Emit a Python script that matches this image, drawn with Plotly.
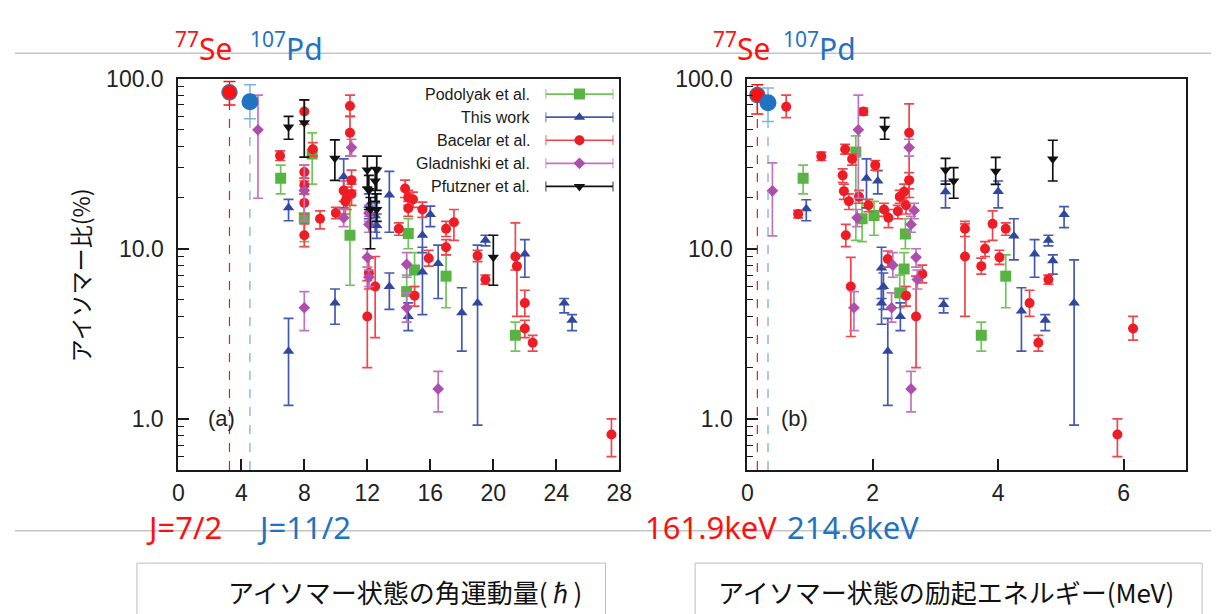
import numpy as np
import plotly.graph_objects as go

W, H = 1224, 614

# ---------------- isomeric ratio (%) versus spin J (hbar) ----------------
POD_J = [6.5, 8.0, 8.5, 10.9, 14.6, 15.0, 14.5, 17.0, 21.4]
POD_J_R = [26, 15.2, 36, 12, 12.3, 7.5, 5.6, 6.9, 3.1]
POD_J_HI = [31, 26, 48, 20, 15, 9.5, 7.0, 9.2, 3.7]
POD_J_LO = [21, 11, 24, 6.1, 10, 6.0, 4.5, 4.5, 2.5]

TW_J = [7.0, 7.0, 9.95, 10.5, 12.1, 12.5, 12.6, 13.4, 13.4, 14.6, 15.5, 15.5,
        16.0, 16.5, 18.0, 19.0, 19.5, 22.0, 24.5, 25.0]
TW_J_R = [17.4, 2.5, 4.8, 26.5, 18, 15.6, 13.7, 20.7, 6.0, 4.0, 12, 7.3,
          15.9, 8.2, 4.2, 4.8, 11.2, 9.3, 4.8, 3.8]
TW_J_HI = [19.5, 3.9, 5.8, 33.7, 21, 18.6, 16, 28.5, 7.2, 4.8, 17.4, 10.2,
           17.8, 10.5, 5.9, 10.5, 12, 11.3, 5.1, 4.1]
TW_J_LO = [14.6, 1.2, 3.6, 17.4, 15, 12.5, 11.5, 12.5, 4.4, 3.3, 9.5, 4.1,
           13.5, 5.1, 2.5, 0.92, 10.4, 6.8, 4.2, 3.3]

BAC_J = [6.46, 8.0, 8.54, 8.0, 8.0, 8.0, 8.0, 9.0, 10.0, 10.9, 10.9, 10.5, 10.7,
         11.0, 10.6, 11.0, 12.1, 12.5, 12.0, 14.0, 14.4, 14.9, 14.6, 15.5, 15.9,
         15.0, 17.0, 17.5, 17.0, 19.0, 19.5, 21.4, 21.5, 22.0, 22.0, 22.5, 27.5, 14.6]
BAC_J_R = [35.2, 64, 38.4, 28.2, 23.7, 18.6, 12, 15, 16.2, 69, 48, 22, 20,
           25.3, 19, 21, 7.2, 6.0, 4.0, 13.1, 22.6, 19.5, 17.3, 17, 8.8,
           5.3, 13.1, 14.3, 10.2, 9.1, 6.6, 9.0, 7.9, 4.8, 3.4, 2.8, 0.81, 20]
BAC_J_HI = [37.6, 75, 42, 31, 26, 21, 14, 16.7, 17.5, 80, 60, 25, 23,
            29, 21, 24, 8.8, 9.0, 6.5, 14.2, 25.3, 21.5, 19, 18.8, 9.8,
            6.0, 14.5, 17, 11.3, 9.8, 7.0, 14.2, 9.0, 5.7, 3.8, 3.1, 1.0, 22]
BAC_J_LO = [33, 54, 35, 25, 21, 16, 10.3, 13.1, 15, 60, 35, 19, 17,
            22, 16, 18, 5.8, 3.0, 2.0, 12, 20, 17.5, 15.5, 15.3, 7.9,
            4.6, 11.8, 11.2, 9.2, 8.4, 6.2, 7.5, 4.0, 4.0, 3.0, 2.5, 0.6, 18]

GLA_J = [5.06, 8.0, 8.0, 11.0, 10.5, 12.1, 12.1, 12.0, 12.1, 14.5, 14.5, 16.5]
GLA_J_R = [50, 22, 4.5, 39.3, 15.2, 16.2, 13.9, 8.9, 6.8, 8.1, 4.5, 1.5]
GLA_J_HI = [80, 31, 5.6, 44, 17, 18, 15.5, 10, 7.5, 9.5, 5.5, 1.9]
GLA_J_LO = [19.8, 14.6, 3.3, 35, 13.5, 14.5, 12.5, 7.8, 6.0, 6.8, 3.7, 1.1]

PFU_J = [7.0, 8.0, 9.94, 12.0, 12.6, 12.1, 12.5, 12.2, 12.6, 20.0]
PFU_J_R = [52, 55, 34, 29, 29, 22, 25, 17, 17, 8.9]
PFU_J_HI = [60, 75, 43.6, 35, 35, 27, 30, 20, 21, 12]
PFU_J_LO = [44, 34.5, 25.2, 23, 22, 17, 19, 10, 14.5, 6.1]

# ---------------- isomeric ratio (%) versus excitation energy (MeV) ----------------
POD_E = [0.89, 1.73, 1.83, 2.02, 2.52, 2.5, 2.43, 3.73, 4.12]
POD_E_R = [26, 37, 15, 15.7, 12.2, 7.6, 5.5, 3.1, 6.9]
POD_E_HI = [31, 46, 19.5, 19, 15, 9.5, 7.0, 3.7, 9.2]
POD_E_LO = [21, 11.2, 11, 12, 10, 6.0, 4.5, 2.5, 4.5]

TW_E = [0.94, 1.9, 2.08, 4.0, 5.05, 4.25, 4.8, 4.58, 4.87, 4.37, 4.75, 5.21,
        3.13, 3.16, 2.14, 2.14, 2.44, 2.24, 2.17]
TW_E_R = [17.2, 26, 25, 21.7, 15.9, 11.9, 11.2, 9.3, 8.5, 4.3, 3.8, 4.8,
          4.7, 21.6, 7.7, 4.8, 4.0, 2.5, 6.0]
TW_E_HI = [19.4, 33.7, 28.8, 25, 17.7, 15, 12, 11.3, 9.2, 5.9, 4.1, 8.6,
           5.1, 25, 10.2, 5.8, 4.8, 3.9, 7.2]
TW_E_LO = [14.6, 17.4, 21, 17.4, 13.3, 8.6, 10.4, 6.8, 7.1, 2.5, 3.3, 0.92,
           4.2, 17.4, 5.1, 3.6, 3.3, 1.2, 4.4]

BAC_E = [0.62, 1.85, 1.18, 0.81, 1.56, 1.67, 2.04, 1.52, 1.54, 1.62, 1.78, 1.93,
         2.18, 2.25, 2.58, 2.58, 2.43, 2.5, 2.53, 2.4, 1.57, 1.65, 2.24, 2.53,
         2.69, 2.79, 3.47, 3.47, 3.79, 3.73, 3.91, 4.02, 4.12, 4.5, 4.64, 4.8,
         6.15, 5.9]
BAC_E_R = [68.3, 64, 35, 16, 38.4, 33.7, 31, 27, 21.8, 19, 20.2, 18,
           17, 15.2, 48, 25.3, 20.2, 21.6, 18, 16.6, 12, 6.0, 8.7, 5.3,
           4.0, 7.1, 13.1, 9.0, 10, 7.9, 14, 8.9, 13.1, 4.8, 2.8, 6.6,
           3.4, 0.81]
BAC_E_HI = [80, 67, 37, 16.8, 41, 36, 33, 29.5, 24, 21, 22, 19.5,
            18.5, 17, 71, 28, 22, 24, 20, 18, 13.9, 8.9, 9.7, 6.0,
            6.9, 8.0, 14.5, 14, 11, 8.8, 16.7, 9.8, 14.2, 5.7, 3.1, 7.0,
            4.0, 1.0]
BAC_E_LO = [59, 61, 33, 15.2, 36, 31, 29, 24.5, 19.5, 17, 18.5, 16.5,
            15.5, 13.3, 20, 22.5, 18.5, 19, 16, 15, 10.3, 3.05, 7.8, 4.6,
            2.0, 6.3, 11.8, 4.0, 9.0, 7.1, 11.2, 8.1, 12, 4.0, 2.5, 6.2,
            2.9, 0.6]

GLA_E = [1.77, 0.4, 1.7, 2.58, 1.75, 2.66, 2.61, 2.69, 2.71, 2.32, 2.3, 2.61]
GLA_E_R = [50, 21.9, 4.5, 39.3, 15.2, 16.8, 13.9, 8.9, 6.6, 8.0, 4.5, 1.5]
GLA_E_HI = [80, 32, 5.6, 44, 17, 18.5, 15.5, 10, 7.5, 9.5, 5.5, 1.9]
GLA_E_LO = [19.8, 11.9, 3.3, 35, 13.5, 15, 12.5, 7.8, 5.8, 6.8, 3.7, 1.1]

PFU_E = [2.19, 3.16, 3.29, 3.96, 4.87]
PFU_E_R = [51, 29, 25, 28.5, 33.7]
PFU_E_HI = [59, 34, 30, 34.4, 43.4]
PFU_E_LO = [44, 24, 19.8, 23.9, 25]

# highlighted isomers: 77Se (J=7/2, 161.9 keV) and 107Pd (J=11/2, 214.6 keV)
HL_J = [3.25, 4.55]
HL_E = [0.16, 0.33]
HL_R_J = [83, 73]
HL_HI_J = [96, 92]
HL_LO_J = [70, 58]
HL_R_E = [80, 72]
HL_HI_E = [92, 88]
HL_LO_E = [62, 56]

LEGEND_NAMES = ["Podolyak et al.", "This work", "Bacelar et al.",
                "Gladnishki et al.", "Pfutzner et al."]

J_TICKS = [0, 4, 8, 12, 16, 20, 24, 28]
E_TICKS = [0, 2, 4, 6]
R_TICKS = [1, 10, 100]
R_TICK_TEXT = ["1.0", "10.0", "100.0"]

# series styling: (marker colour, error bar colour, symbol, marker size)
STYLE = [
    ("#57b443", "#72c35a", "square", 11),
    ("#2f47a0", "#4459b3", "triangle-up", 10),
    ("#ee1c24", "#f2444b", "circle", 10),
    ("#ad4ead", "#c272c2", "diamond", 9),
    ("#111111", "#111111", "triangle-down", 10),
]

RED = "#ff1010"
BLUE = "#1f73c0"


def px(x):
    return x / W


def py(y):
    return 1 - y / H


fig = go.Figure()


def add_series(x, r, hi, lo, style, xa, ya, name):
    mcol, bcol, sym, size = style
    fig.add_trace(go.Scatter(
        x=x, y=r, mode="markers", name=name, showlegend=False,
        xaxis=xa, yaxis=ya,
        marker=dict(symbol=sym, size=size, color=mcol, line=dict(width=0)),
        error_y=dict(type="data", symmetric=False,
                     array=[h - v for h, v in zip(hi, r)],
                     arrayminus=[v - l for v, l in zip(r, lo)],
                     color=bcol, thickness=1.7, width=5),
    ))


left_sets = [
    (POD_J, POD_J_R, POD_J_HI, POD_J_LO),
    (TW_J, TW_J_R, TW_J_HI, TW_J_LO),
    (BAC_J, BAC_J_R, BAC_J_HI, BAC_J_LO),
    (GLA_J, GLA_J_R, GLA_J_HI, GLA_J_LO),
    (PFU_J, PFU_J_R, PFU_J_HI, PFU_J_LO),
]
right_sets = [
    (POD_E, POD_E_R, POD_E_HI, POD_E_LO),
    (TW_E, TW_E_R, TW_E_HI, TW_E_LO),
    (BAC_E, BAC_E_R, BAC_E_HI, BAC_E_LO),
    (GLA_E, GLA_E_R, GLA_E_HI, GLA_E_LO),
    (PFU_E, PFU_E_R, PFU_E_HI, PFU_E_LO),
]

for name, st, ls, rs in zip(LEGEND_NAMES, STYLE, left_sets, right_sets):
    add_series(*ls, st, "x", "y", name)
    add_series(*rs, st, "x2", "y2", name)

# dashed guide lines from the highlighted isomers down to the axis
R_MIN, R_MAX = 0.5, 100
for xs, rv, lo, xref, yref in [(HL_J, HL_R_J, HL_LO_J, "x", "y"),
                               (HL_E, HL_R_E, HL_LO_E, "x2", "y2")]:
    fig.add_shape(type="line", xref=xref, yref=yref,
                  x0=xs[0], x1=xs[0], y0=R_MIN, y1=rv[0],
                  line=dict(color=RED, width=1.2, dash="dash"))
    fig.add_shape(type="line", xref=xref, yref=yref,
                  x0=xs[1], x1=xs[1], y0=R_MIN, y1=lo[1],
                  line=dict(color="#6fa8dc", width=1.2, dash="dash"))

# highlighted isomer markers
for xs, rv, hi, lo, xa, ya in [(HL_J, HL_R_J, HL_HI_J, HL_LO_J, "x", "y"),
                               (HL_E, HL_R_E, HL_HI_E, HL_LO_E, "x2", "y2")]:
    fig.add_trace(go.Scatter(
        x=[xs[0]], y=[rv[0]], mode="markers", showlegend=False, xaxis=xa, yaxis=ya,
        marker=dict(symbol="circle", size=15, color=RED, line=dict(color="#4f6a96", width=1.5)),
        error_y=dict(type="data", symmetric=False, array=[hi[0] - rv[0]],
                     arrayminus=[rv[0] - lo[0]], color=RED, thickness=1.5, width=6),
    ))
    fig.add_trace(go.Scatter(
        x=[xs[1]], y=[rv[1]], mode="markers", showlegend=False, xaxis=xa, yaxis=ya,
        marker=dict(symbol="circle", size=17, color=BLUE, line=dict(width=0)),
        error_y=dict(type="data", symmetric=False, array=[hi[1] - rv[1]],
                     arrayminus=[rv[1] - lo[1]], color="#7fb2e0", thickness=1.5, width=6),
    ))

# legend key drawn on its own small axis: marker with a horizontal bar
KEY_TOP, KEY_ROW = 71, 23.6
for i, (name, st) in enumerate(zip(LEGEND_NAMES, STYLE)):
    mcol, bcol, sym, size = st
    fig.add_trace(go.Scatter(
        x=[0.5], y=[i], mode="markers", showlegend=False, xaxis="x3", yaxis="y3",
        marker=dict(symbol=sym, size=size, color=mcol),
        error_x=dict(type="constant", value=0.5, color=bcol, thickness=1.7, width=5),
    ))
    fig.add_annotation(x=px(534), y=py(KEY_TOP + KEY_ROW * (i + 0.5)),
                       xref="paper", yref="paper", text=name,
                       showarrow=False, xanchor="right", yanchor="middle",
                       font=dict(family="Liberation Sans, Arial", size=16, color="#1a1a1a"))

L_DOM = [px(175), px(623)]
R_DOM = [px(753), px(1199)]
Y_DOM = [py(467), py(67)]

axis_line = dict(showline=True, linecolor="#1a1a1a", linewidth=2, mirror=True,
                 showgrid=False, zeroline=False, ticks="inside", tickcolor="#1a1a1a",
                 tickwidth=1.5, ticklen=11,
                 tickfont=dict(family="Liberation Sans, Arial", size=23, color="#222"))

minor_vals = [v * 10 ** k for k in (-1, 0, 1) for v in range(2, 10)]
minor_vals = [v for v in minor_vals if R_MIN <= v <= R_MAX]

yax = dict(axis_line, type="log", range=[np.log10(R_MIN), np.log10(R_MAX)],
           tickmode="array", tickvals=R_TICKS, ticktext=R_TICK_TEXT,
           ticklabelstandoff=8,
           minor=dict(tickmode="array", tickvals=minor_vals, ticks="inside",
                      ticklen=6, tickwidth=1.3, tickcolor="#1a1a1a"))

fig.update_layout(
    width=W, height=H, margin=dict(l=0, r=0, t=0, b=0),
    paper_bgcolor="white", plot_bgcolor="white", showlegend=False,
    xaxis=dict(axis_line, domain=L_DOM, range=[0, 28], tickmode="array",
               tickvals=J_TICKS, anchor="y", ticklabelstandoff=1),
    yaxis=dict(yax, domain=Y_DOM, anchor="x"),
    xaxis2=dict(axis_line, domain=R_DOM, range=[0, 7], tickmode="array",
                tickvals=E_TICKS, anchor="y2", ticklabelstandoff=1),
    yaxis2=dict(yax, domain=Y_DOM, anchor="x2"),
    xaxis3=dict(domain=[px(548), px(617)], range=[0, 1], visible=False, anchor="y3",
                fixedrange=True),
    yaxis3=dict(domain=[py(KEY_TOP + 5 * KEY_ROW), py(KEY_TOP)], range=[4.5, -0.5],
                visible=False, anchor="x3", fixedrange=True),
)

# panel tags
fig.add_annotation(x=2.75, y=0, xref="x", yref="y", text="(a)", showarrow=False,
                   font=dict(family="Liberation Sans, Arial", size=22, color="#222"))
fig.add_annotation(x=0.75, y=0, xref="x2", yref="y2", text="(b)", showarrow=False,
                   font=dict(family="Liberation Sans, Arial", size=22, color="#222"))

# y-axis title
fig.add_annotation(x=px(75), y=py(268), xref="paper", yref="paper",
                   text="アイソマー比(%)", textangle=-90, showarrow=False,
                   xanchor="center", yanchor="middle",
                   font=dict(family="Noto Sans CJK JP", size=23, color="#111"))

# nuclide labels above each panel
NUC_FONT = "Noto Sans, Liberation Sans"
for cx, txt, col in [(201, "<sup>77</sup>Se", RED), (285, "<sup>107</sup>Pd", BLUE),
                     (747, "<sup>77</sup>Se", RED), (826, "<sup>107</sup>Pd", BLUE)]:
    fig.add_annotation(x=px(cx), y=py(35), xref="paper", yref="paper", text=txt,
                       showarrow=False, xanchor="center", yanchor="middle",
                       font=dict(family=NUC_FONT, size=30, color=col))

# spin / energy labels under each panel
for cx, txt, col in [(181, "J=7/2", RED), (303, "J=11/2", BLUE),
                     (716, "161.9keV", RED), (860, "214.6keV", BLUE)]:
    fig.add_annotation(x=px(cx), y=py(525), xref="paper", yref="paper", text=txt,
                       showarrow=False, xanchor="center", yanchor="middle", height=38,
                       font=dict(family=NUC_FONT, size=31, color=col))

# separator rules
for yy in (41, 529):
    fig.add_shape(type="line", xref="paper", yref="paper", x0=px(9), x1=1,
                  y0=py(yy), y1=py(yy), line=dict(color="#c4c4c4", width=1.5))

# axis caption boxes
for x0, x1, cx, txt in [(133, 609, 405, "アイソマー状態の角運動量(ℏ)"),
                        (700, 1215, 955, "アイソマー状態の励起エネルギー(MeV)")]:
    fig.add_shape(type="rect", xref="paper", yref="paper", x0=px(x0), x1=px(x1),
                  y0=py(616), y1=py(562), line=dict(color="#bdbdbd", width=1))
    fig.add_annotation(x=px(cx), y=py(591), xref="paper", yref="paper", text=txt,
                       showarrow=False, xanchor="center", yanchor="middle",
                       font=dict(family="Noto Sans CJK JP", size=26, color="#111"))

fig.write_html("out.html")
